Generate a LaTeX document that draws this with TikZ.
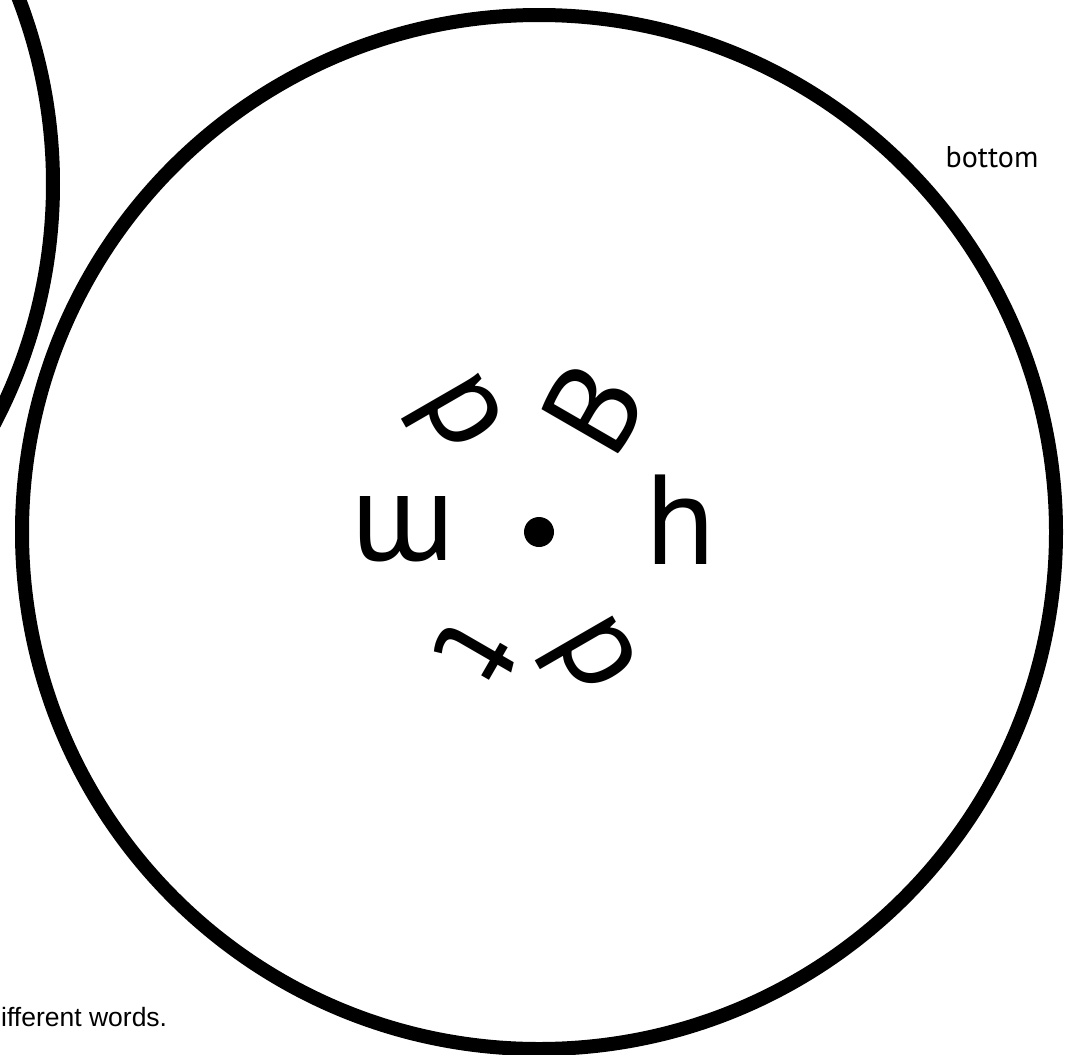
\documentclass[tikz,border=0pt]{standalone}
\usepackage{fontspec}
\setmainfont{PT Sans}
\newfontfamily\arialf{Liberation Sans}
\begin{document}
\begin{tikzpicture}[x=1pt,y=-1pt,
  ring/.style={circle, draw=black, line width=14pt, minimum size=1034pt, inner sep=0pt},
  glyph/.style={inner sep=0pt, font=\fontsize{128}{150}\selectfont},
  label/.style={inner sep=0pt}]
\useasboundingbox (0,0) rectangle (1077,1055);
\clip (0,0) rectangle (1077,1055);
\fill[white] (0,0) rectangle (1077,1055);
\node[ring] (left) at (-464,184) {};
\node[ring] (big) at (539,532) {};
\node[circle, fill=black, minimum size=30pt, inner sep=0pt] (dot) at (539,532) {};
\node[glyph, rotate=0]   (lh) at (681,520) {h};
\node[glyph, rotate=60]  (lB) at (593,409) {B};
\node[glyph, rotate=120] (ld) at (453,418) {d};
\node[glyph, rotate=180] (lm) at (404,529) {m};
\node[glyph, rotate=240] (lt) at (476,653) {t};
\node[glyph, rotate=300] (lp) at (587,659) {p};
\node[label, font=\fontsize{30}{36}\selectfont, anchor=base] (bottom) at (992,167) {bottom};
\node[label, font=\arialf\fontsize{26.5}{32}\selectfont, anchor=base west] (words) at (1,1026) {ifferent words.};
\end{tikzpicture}
\end{document}
